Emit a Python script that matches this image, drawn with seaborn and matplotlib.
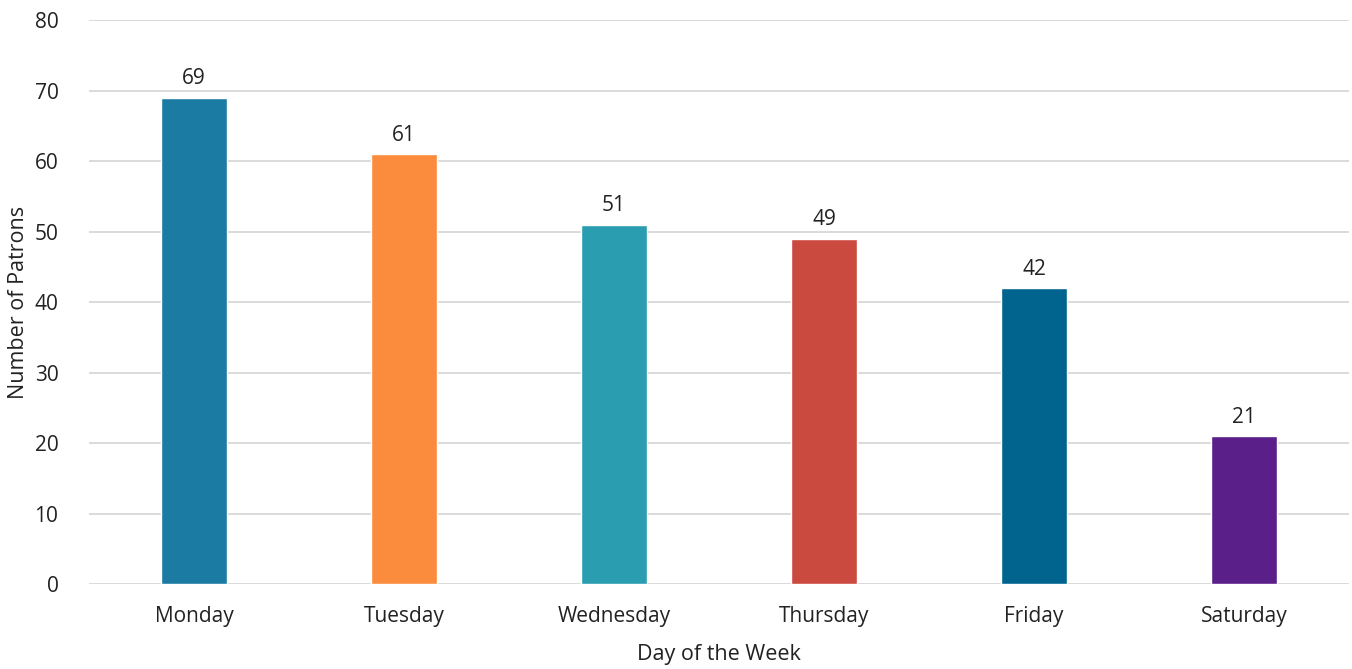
import matplotlib
matplotlib.use("Agg")
import matplotlib.pyplot as plt
import seaborn as sns
import pandas as pd

days = ["Monday", "Tuesday", "Wednesday", "Thursday", "Friday", "Saturday"]
patrons = [69, 61, 51, 49, 42, 21]
colors = ["#1b7ba2", "#fb8c3e", "#2a9db0", "#cb4a40", "#00648f", "#5b1f8a"]

df = pd.DataFrame({"Day": days, "Patrons": patrons})

sns.set_theme(style="white")
plt.rcParams["font.family"] = ["Open Sans", "DejaVu Sans"]

fig = plt.figure(figsize=(13.52, 6.69), dpi=100)
ax = fig.add_axes([0.0658, 0.127, 0.932, 0.843])
sns.barplot(data=df, x="Day", y="Patrons", hue="Day", palette=colors,
            legend=False, width=0.315, saturation=1, ax=ax)

for c in ax.containers:
    ax.bar_label(c, padding=6, fontsize=15, color="#222222")

ax.set_ylim(0, 80)
ax.set_xlim(-0.5, 5.5)
ax.set_yticks(range(0, 81, 10))
ax.yaxis.grid(True, color="#d4d4d4", linewidth=1.2)
ax.set_axisbelow(True)
for s in ax.spines.values():
    s.set_visible(False)
ax.tick_params(axis="both", length=0, labelsize=15, labelcolor="#222222")
ax.tick_params(axis="x", pad=16)
ax.tick_params(axis="y", pad=22)
ax.set_xlabel("Day of the Week", fontsize=15.5, color="#222222", labelpad=12)
ax.set_ylabel("Number of Patrons", fontsize=15.5, color="#222222", labelpad=4)

fig.savefig("out.png", dpi=100)
